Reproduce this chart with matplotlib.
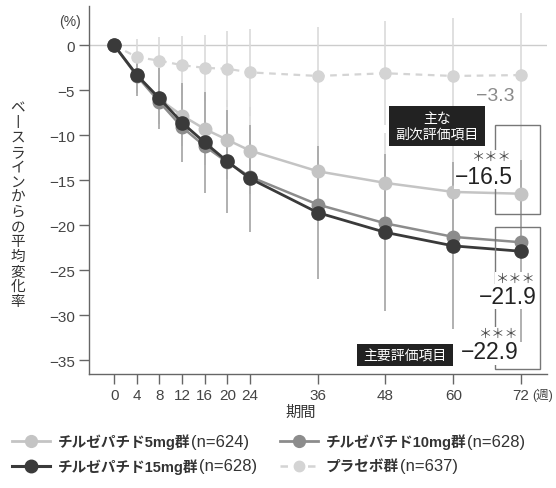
import matplotlib
matplotlib.use("Agg")
import numpy as np
import matplotlib.pyplot as plt
from matplotlib.lines import Line2D
from matplotlib.patches import Rectangle

# latin glyphs from Liberation Sans, Japanese falls through to Noto CJK
plt.rcParams['font.family'] = ['Liberation Sans', 'Noto Sans CJK JP', 'DejaVu Sans']

weeks = [0, 4, 8, 12, 16, 20, 24, 36, 48, 60, 72]
tirz_5 = [0, -3.3, -6.0, -7.8, -9.3, -10.5, -11.7, -14.0, -15.3, -16.3, -16.5]
tirz_10 = [0, -3.4, -6.3, -9.1, -11.2, -13.0, -14.6, -17.7, -19.8, -21.3, -21.9]
tirz_15 = [0, -3.3, -5.9, -8.6, -10.8, -12.9, -14.8, -18.6, -20.8, -22.3, -22.9]
placebo = [0, -1.3, -1.7, -2.2, -2.5, -2.6, -3.0, -3.4, -3.1, -3.4, -3.3]

# spread shown as vertical bars
placebo_sd = [0, 2.0, 2.6, 3.3, 3.7, 4.2, 4.8, 5.5, 5.8, 6.5, 6.9]
tirz_5_sd = [0, 2.0, 2.7, 3.4, 4.0, 4.4, 4.8, 5.2, 5.6, 6.0, 6.3]
tirz_15_sd = [0, 2.3, 3.4, 4.4, 5.6, 5.75, 6.0, 7.4, 8.7, 9.3, 10.1]

group_names = ['チルゼパチド5mg群', 'チルゼパチド10mg群', 'チルゼパチド15mg群', 'プラセボ群']
group_n = [624, 628, 628, 637]
yticks = [0, -5, -10, -15, -20, -25, -30, -35]

styles = {
    '5mg': dict(color='#c4c4c4', lw=1.8, ls='-', ms=9),
    '10mg': dict(color='#8c8c8c', lw=1.8, ls='-', ms=9),
    '15mg': dict(color='#3a3a3a', lw=2.0, ls='-', ms=9.5),
    'placebo': dict(color='#d4d4d4', lw=1.6, ls=(0, (3, 2.5)), ms=8),
}

fig = plt.figure(figsize=(5.56, 4.89), dpi=100)
ax = fig.add_axes([0.160, 0.233, 0.824, 0.753])
ax.set_xlim(-4.48, 76.6)
ax.set_ylim(-36.56, 4.4)

ax.axhline(0, color='#cccccc', lw=1.0, zorder=0)

w = np.array(weeks)
for vals, sd, col, z in [(placebo, placebo_sd, '#dadada', 1.0),
                         (tirz_5, tirz_5_sd, '#dadada', 1.1),
                         (tirz_15, tirz_15_sd, '#a3a3a3', 1.2)]:
    v = np.array(vals)
    s = np.array(sd)
    ax.vlines(w[1:], (v - s)[1:], (v + s)[1:], color=col, lw=1.2, zorder=z)

order = [('placebo', placebo, 2), ('5mg', tirz_5, 3), ('10mg', tirz_10, 4), ('15mg', tirz_15, 5)]
for key, vals, z in order:
    st = styles[key]
    ax.plot(weeks, vals, color=st['color'], lw=st['lw'], ls=st['ls'],
            marker='o', ms=st['ms'], mec=st['color'], mfc=st['color'], zorder=z)

for s in ['top', 'right']:
    ax.spines[s].set_visible(False)
for s in ['left', 'bottom']:
    ax.spines[s].set_color('#666666')
    ax.spines[s].set_linewidth(1.0)

ax.set_xticks(weeks)
ax.set_xticklabels([str(x) for x in weeks])
ax.set_yticks(yticks)
ax.set_yticklabels([str(y).replace('-', '\u2212') for y in yticks])
ax.tick_params(direction='out', length=7, width=1, color='#666666',
               labelcolor='#444444', labelsize=11, pad=3)

ax.annotate('(週)', xy=(72, 0), xycoords=('data', 'axes fraction'),
            xytext=(8, -15), textcoords='offset points', ha='left', va='center',
            fontsize=9, color='#444444')
fig.text(0.125, 0.955, '(%)', ha='center', va='center', fontsize=10, color='#444444')
fig.text(0.540, 0.155, '期間', ha='center', va='center', fontsize=11, color='#333333')

ylabel = 'ベ丨スラインからの平均変化率'
fig.text(0.032, 0.581, '\n'.join(ylabel), ha='center', va='center', fontsize=10.5,
         color='#333333', linespacing=1.08)

# end-of-study labels
def fmt(v):
    return ('%.1f' % v).replace('-', '\u2212')

wbox = dict(boxstyle='square,pad=0.05', fc='white', ec='none')
star_kw = dict(ha='right', va='center', fontsize=9.5, color='#4a4a4a', bbox=wbox, zorder=7)
num_kw = dict(ha='right', va='center', fontsize=16.5, color='#222222', bbox=wbox, zorder=7)

ax.text(70.9, -5.6, fmt(placebo[-1]), ha='right', va='center', fontsize=14,
        color='#8a8a8a', zorder=7)
ax.text(70.4, -12.4, '＊＊＊', **star_kw)
ax.text(70.6, -14.6, fmt(tirz_5[-1]), **num_kw)
ax.text(74.5, -26.0, '＊＊＊', **star_kw)
ax.text(74.8, -27.9, fmt(tirz_10[-1]), **num_kw)
ax.text(71.5, -32.1, '＊＊＊', **star_kw)
ax.text(71.5, -34.1, fmt(tirz_15[-1]), **num_kw)

# brackets around the week-72 results
for y0, y1 in [(-18.8, -8.9), (-36.0, -20.2)]:
    ax.add_patch(Rectangle((67.4, y0), 8.0, y1 - y0, fill=False, ec='#777777',
                           lw=1.0, zorder=6, clip_on=False))

# black tags
ax.add_patch(Rectangle((48.6, -11.18), 17.0, 4.46, fc='#222222', ec='none', zorder=8))
ax.text(57.1, -8.95, '主な\n副次評価項目', ha='center', va='center', fontsize=10,
        color='white', linespacing=1.15, zorder=9)
ax.add_patch(Rectangle((43.0, -35.7), 17.0, 2.5, fc='#222222', ec='none', zorder=8))
ax.text(51.5, -34.45, '主要評価項目', ha='center', va='center', fontsize=10,
        color='white', zorder=9)

# legend drawn in figure coordinates
legend_keys = ['5mg', '10mg', '15mg', 'placebo']
slots = [(0.022, 0.096), (0.504, 0.096), (0.022, 0.045), (0.504, 0.045)]
fig.canvas.draw()
renderer = fig.canvas.get_renderer()
for key, name, n, (x0, y0) in zip(legend_keys, group_names, group_n, slots):
    st = styles[key]
    fig.add_artist(Line2D([x0, x0 + 0.068], [y0, y0], transform=fig.transFigure,
                          color=st['color'], lw=st['lw'] + 0.2, ls=st['ls']))
    fig.add_artist(Line2D([x0 + 0.034], [y0], transform=fig.transFigure, marker='o',
                          ms=st['ms'] - 0.5, color=st['color'], ls='none'))
    t = fig.text(x0 + 0.082, y0, name, ha='left', va='center', fontsize=10.5,
                 fontweight='bold', color='#333333')
    bb = t.get_window_extent(renderer)
    xf = fig.transFigure.inverted().transform((bb.x1 + 1, bb.y0))[0]
    fig.text(xf, y0, '(n=%d)' % n, ha='left', va='center', fontsize=12,
             color='#333333')

fig.savefig('out.png', dpi=100)
